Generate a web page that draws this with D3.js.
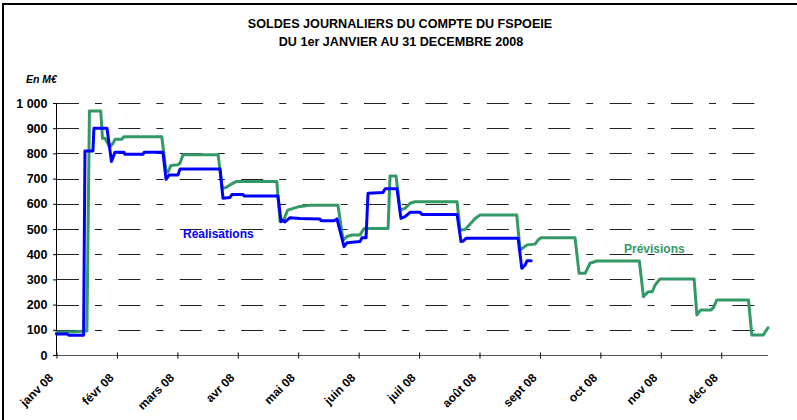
<!DOCTYPE html>
<html>
<head>
<meta charset="utf-8">
<script src="https://cdn.jsdelivr.net/npm/d3@7"></script>
<style>
  html, body { margin: 0; padding: 0; background: #fff; }
  svg { display: block; font-family: "Liberation Sans", Arial, sans-serif; }
</style>
</head>
<body>
<svg id="chart" width="797" height="420"></svg>
<script>
// ---- data (day index from 1 Jan 2008, value in M€) ----
const monthLabels = ["janv 08","févr 08","mars 08","avr 08","mai 08","juin 08","juil 08","août 08","sept 08","oct 08","nov 08","déc 08"];
const monthTickDays = [0,31,62,93,124,155,186,217,248,279,310,341];
const yTickValues = [0,100,200,300,400,500,600,700,800,900,1000];
const yTickLabels = ["0","100","200","300","400","500","600","700","800","900","1 000"];

const realisations = [
  [0,83],[5.4,83],[6.4,78],[13.9,78],[14.6,810],[18.7,810],[19.2,900],[25.9,900],
  [28.2,768],[30,805],[34.6,805],[35,797],[44.4,797],[45,805],[54.6,805],
  [56.2,697],[57.7,714],[62.3,714],[63.4,738],[83.9,738],[85.4,622],[89,625],
  [90,637],[95.7,637],[96.2,631],[113.6,631],[115.2,529],[116,535],[117.2,528],
  [119.8,545],[124.9,542],[135.2,540],[135.7,533],[142.4,533],[143.9,540],
  [147.5,430],[149,445],[155.7,450],[156.7,465],[158.8,465],[159.8,642],
  [167.5,645],[168.6,660],[174.7,660],[176.7,542],[178.8,549],[181.4,566],
  [186.5,566],[187.5,558],[205.5,558],[207.5,450],[208.6,452],[210.1,463],
  [236.8,463],[238.7,344],[240.4,357],[241.4,374],[243.5,374]
];

const previsions = [
  [0,90],[9.5,92],[14.6,95],[15.6,95],[16.9,968],[22.7,968],[23.6,860],[24.9,860],
  [27.2,826],[29,840],[30,856],[33.5,856],[34.6,866],[54,866],[56.2,727],[57.2,727],
  [58.7,752],[62.3,755],[63.4,762],[64.9,795],[82.9,795],[85,661],[87,665],[89,675],
  [92.1,688],[113,688],[114.7,529],[116.5,535],[118.6,575],[124,588],[130,594],
  [144.4,594],[147,456],[149,470],[151.6,476],[155.7,476],[156.7,489],[157.8,502],
  [170.1,502],[171.1,710],[174.2,710],[176.2,575],[178.8,582],[181.4,602],[184,608],
  [205.5,608],[207,496],[209.6,498],[212.2,520],[214.8,542],[217.3,556],[236.1,556],
  [237.8,417],[241.4,437],[245.5,440],[247,456],[248.6,465],[266,465],[268.1,324],
  [271.2,324],[273.7,364],[277.2,373],[299,373],[301.1,231],[303.5,251],[305.6,251],
  [307.1,278],[309.6,302],[327.1,302],[328.5,159],[330.5,179],[335.8,179],[337,188],
  [338.7,218],[355,218],[356.7,79],[362.5,79],[365,108]
];

// ---- drawing ----
const svg = d3.select("#chart");
const x = d3.scaleLinear().domain([0, 365]).range([56.5, 768]);
const y = d3.scaleLinear().domain([0, 1000]).range([355, 103]);

// frame
svg.append("rect").attr("x", 3).attr("y", 4).attr("width", 810).attr("height", 430)
  .attr("fill", "none").attr("stroke", "#000").attr("stroke-width", 2);

// title
svg.append("text").attr("x", 400).attr("y", 28).attr("text-anchor", "middle")
  .attr("font-weight", "bold").attr("font-size", "12.6px").text("SOLDES JOURNALIERS DU COMPTE DU FSPOEIE");
svg.append("text").attr("x", 401).attr("y", 46).attr("text-anchor", "middle")
  .attr("font-weight", "bold").attr("font-size", "12.6px").text("DU 1er JANVIER AU 31 DECEMBRE 2008");

svg.append("text").attr("x", 26).attr("y", 83).attr("font-weight", "bold").attr("font-style", "italic")
  .attr("font-size", "10.5px").text("En M€");

// gridlines
svg.append("g").selectAll("line").data(yTickValues.filter(v => v > 0)).join("line")
  .attr("x1", 57).attr("x2", 768)
  .attr("y1", d => Math.round(y(d)) + 0.5).attr("y2", d => Math.round(y(d)) + 0.5)
  .attr("stroke", "#222").attr("stroke-width", 1)
  .attr("stroke-dasharray", "22,16,7,16.4");

// y axis
const yAxis = d3.axisLeft(y).tickValues(yTickValues).tickSize(4).tickPadding(5)
  .tickFormat((d, i) => yTickLabels[i]);
const gy = svg.append("g").attr("transform", "translate(0.5,0)").call(yAxis);
gy.select(".domain").remove();
gy.selectAll(".tick line").attr("stroke", "#000").attr("transform", d => "translate(56.5,0)");
gy.selectAll(".tick text").attr("x", 47).attr("text-anchor", "end")
  .attr("font-family", "Liberation Sans, Arial, sans-serif")
  .attr("font-weight", "bold").attr("font-size", "12.5px").attr("fill", "#000");
svg.append("line").attr("x1", 56.5).attr("x2", 56.5).attr("y1", 103).attr("y2", 355.5)
  .attr("stroke", "#000");

// x axis
const xAxis = d3.axisBottom(x).tickValues(monthTickDays).tickSize(0).tickFormat((d, i) => monthLabels[i]);
const gx = svg.append("g").attr("transform", "translate(0,355.5)").call(xAxis);
gx.select(".domain").attr("stroke", "#555").attr("d", "M56.5,0H768");
gx.selectAll(".tick").append("line").attr("y1", -3).attr("y2", 3).attr("stroke", "#000");
gx.selectAll(".tick text")
  .attr("font-family", "Liberation Sans, Arial, sans-serif")
  .attr("font-weight", "bold").attr("font-size", "12px").attr("fill", "#000")
  .attr("text-anchor", "end").attr("y", 0).attr("dy", 0)
  .attr("transform", "translate(-3,23) rotate(-45)");

// lines
const line = d3.line().x(d => x(d[0])).y(d => y(d[1]));
svg.append("path").datum(previsions).attr("d", line).attr("fill", "none")
  .attr("stroke", "#339966").attr("stroke-width", 3).attr("stroke-linejoin", "round").attr("stroke-linecap", "round");
svg.append("path").datum(realisations).attr("d", line).attr("fill", "none")
  .attr("stroke", "#0000FF").attr("stroke-width", 3).attr("stroke-linejoin", "round").attr("stroke-linecap", "round");

// labels
svg.append("text").attr("x", 183).attr("y", 238).attr("font-weight", "bold").attr("font-size", "12px")
  .attr("fill", "#0000FF").text("Réalisations");
svg.append("text").attr("x", 624).attr("y", 252.5).attr("font-weight", "bold").attr("font-size", "12px")
  .attr("fill", "#339966").text("Prévisions");
</script>
</body>
</html>
